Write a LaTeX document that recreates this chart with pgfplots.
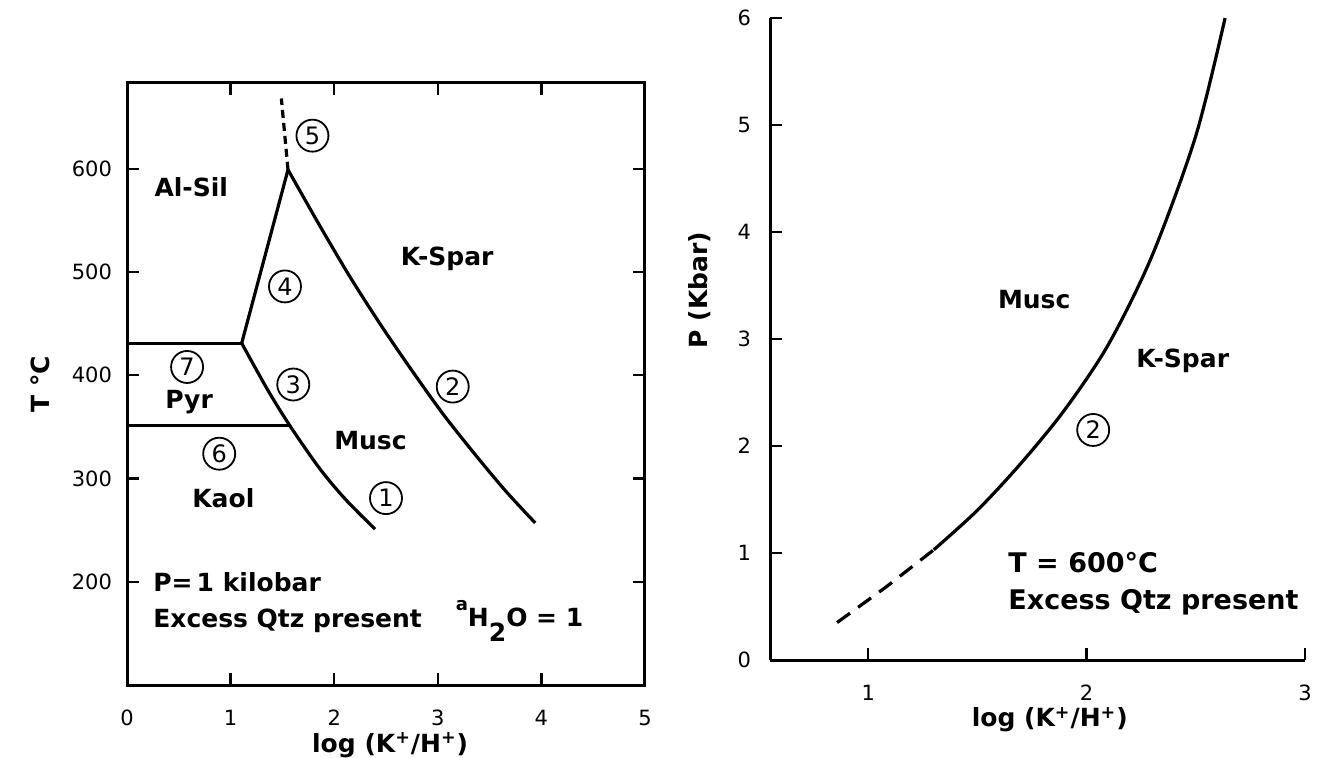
\documentclass[border=0pt]{standalone}
\usepackage{fontspec}
\setmainfont{DejaVu Sans}
\usepackage{pgfplots}
\pgfplotsset{compat=1.18}
\begin{document}
\begin{tikzpicture}[
  lab/.style={font=\fontsize{12.5}{14}\selectfont\bfseries, inner sep=0pt},
  cn/.style={circle, draw, line width=0.9pt, inner sep=0pt, minimum size=16pt, font=\fontsize{12}{13}\selectfont}
]
\useasboundingbox (0,0) rectangle (658.5pt,378.5pt);
\pgfplotsset{
  every axis/.append style={
    scale only axis,
    axis line style={line width=1.5pt},
    every tick/.style={line width=1.2pt, black},
    major tick length=6pt,
    tick align=inside,
    /pgf/number format/assume math mode=true,
    ticklabel style={font=\fontsize{10.5}{12}\selectfont},
    label style={font=\fontsize{12.5}{14}\selectfont\bfseries},
    clip=false,
  }
}
% ---------------- left panel ----------------
\begin{axis}[at={(63.5pt,36pt)}, anchor=south west, width=259pt, height=301pt,
  xmin=0, xmax=5, ymin=100, ymax=683,
  xtick={0,1,2,3,4,5}, ytick={200,300,400,500,600},
  xtick pos=both, ytick pos=both,
  xticklabel style={yshift=-9pt}, yticklabel style={xshift=-4pt},
  xlabel={log (K\textsuperscript{+}/H\textsuperscript{+})}, ylabel={T °C},
  xlabel style={at={(axis description cs:0.508,-0.100)}, anchor=center},
  ylabel style={at={(axis description cs:-0.168,0.5)}, anchor=center},
]
% Al-Sil / Pyr boundary (7)
\addplot[line width=1.6pt] coordinates {(0,431) (1.107,431)};
% Pyr / Kaol boundary (6)
\addplot[line width=1.6pt] coordinates {(0,351) (1.573,351)};
% Al-Sil / Musc boundary (4)
\addplot[line width=1.6pt] coordinates {(1.107,431) (1.554,599)};
% dashed extension (5)
\addplot[line width=1.6pt, dash pattern=on 4pt off 2.5pt] coordinates {(1.554,599) (1.49,668)};
% Musc / K-Spar boundary (2)
\addplot[line width=1.6pt, smooth] coordinates {(1.554,599) (1.854,546) (2.154,495) (2.454,448) (2.754,404) (3.054,362) (3.354,324) (3.654,288) (3.94,257)};
% Pyr,Kaol / Musc boundary (3)-(1)
\addplot[line width=1.6pt, smooth] coordinates {(1.107,431) (1.357,386) (1.573,351) (1.857,310) (2.107,280) (2.394,251)};

\node[lab] at (axis cs:0.62,582) {Al-Sil};
\node[lab] at (axis cs:3.09,513) {K-Spar};
\node[lab] at (axis cs:0.60,374) {Pyr};
\node[lab] at (axis cs:2.35,337) {Musc};
\node[lab] at (axis cs:0.93,281) {Kaol};
\node[cn] at (axis cs:1.79,632) {5};
\node[cn] at (axis cs:1.525,486) {4};
\node[cn] at (axis cs:0.58,408) {7};
\node[cn] at (axis cs:1.605,391) {3};
\node[cn] at (axis cs:3.144,389) {2};
\node[cn] at (axis cs:0.89,324) {6};
\node[cn] at (axis cs:2.50,281) {1};
\node[lab, anchor=west] at (axis cs:0.25,200) {P=\,1 kilobar};
\node[lab, anchor=west] at (axis cs:0.25,162) {Excess Qtz present};
\node[lab, anchor=west] at (axis cs:3.17,162) {\raisebox{1.2ex}{\fontsize{9}{10}\selectfont a}H\raisebox{-1.1ex}{2}O = 1};
\end{axis}
% ---------------- right panel ----------------
\begin{axis}[at={(385pt,48.5pt)}, anchor=south west, width=267.5pt, height=321pt,
  axis lines*=left,
  xmin=0.55, xmax=3, ymin=0, ymax=6,
  xtick={1,2,3}, ytick={0,1,2,3,4,5,6},
  xticklabel style={yshift=-9pt}, yticklabel style={xshift=-6pt},
  xlabel={log (K\textsuperscript{+}/H\textsuperscript{+})}, ylabel={P (Kbar)},
  xlabel style={at={(axis description cs:0.523,-0.093)}, anchor=center},
  ylabel style={at={(axis description cs:-0.131,0.576)}, anchor=center},
]
\addplot[line width=1.6pt, dash pattern=on 8pt off 5pt] coordinates {(0.857,0.35) (1.08,0.68) (1.30,1.03)};
\addplot[line width=1.6pt, smooth] coordinates {(1.30,1.03) (1.5,1.40) (1.7,1.84) (1.9,2.34) (2.1,2.95) (2.3,3.78) (2.5,4.90) (2.634,6.0)};
\node[lab] at (axis cs:1.76,3.37) {Musc};
\node[lab] at (axis cs:2.44,2.80) {K-Spar};
\node[cn] at (axis cs:2.03,2.15) {2};
\node[lab, anchor=west, font=\fontsize{13.5}{15}\selectfont\bfseries] at (axis cs:1.64,0.91) {T = 600°C};
\node[lab, anchor=west, font=\fontsize{13.5}{15}\selectfont\bfseries] at (axis cs:1.64,0.54) {Excess Qtz present};
\end{axis}
\end{tikzpicture}
\end{document}
